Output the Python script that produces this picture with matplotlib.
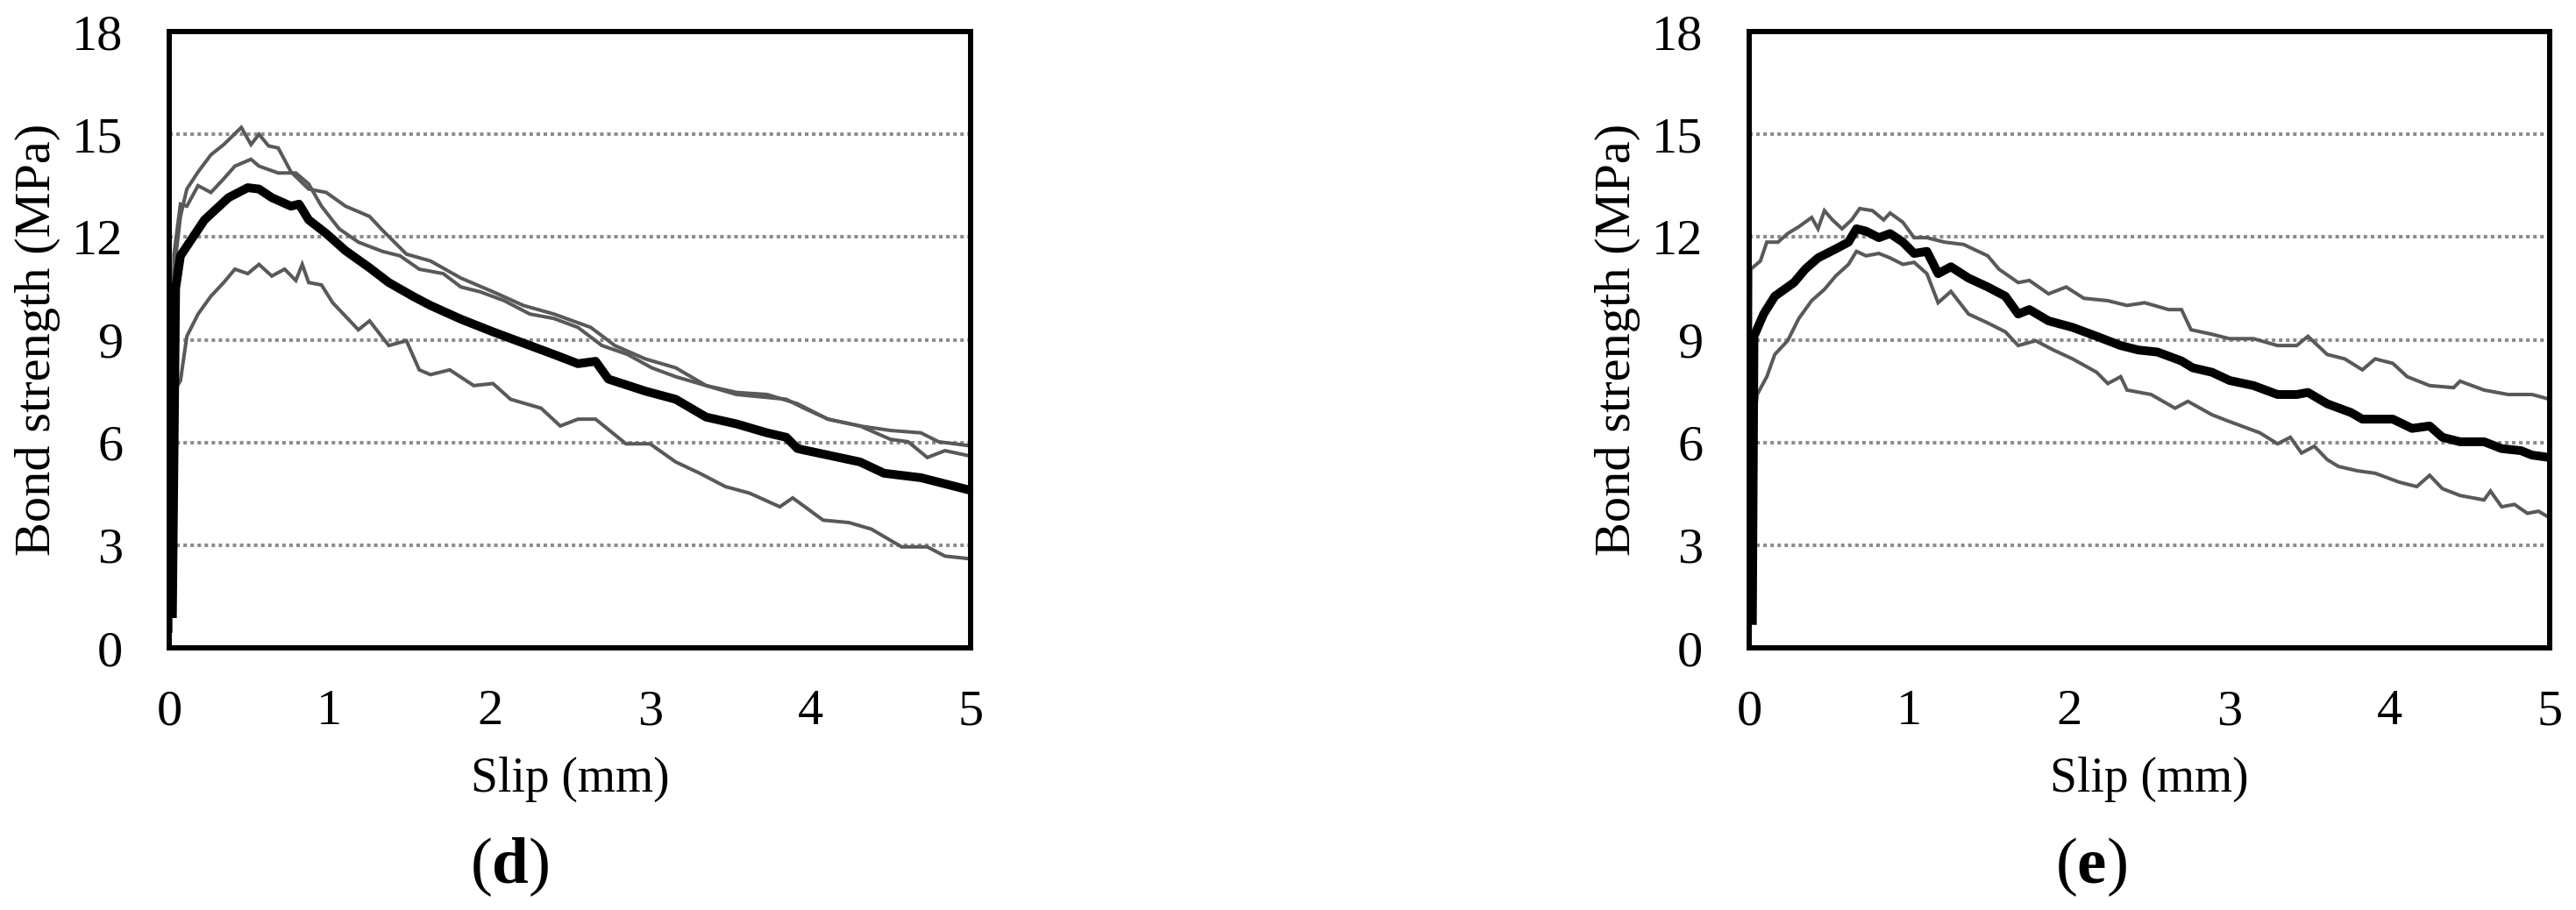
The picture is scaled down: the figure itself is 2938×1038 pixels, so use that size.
import matplotlib.pyplot as plt

# panel (d) - slip (mm) / bond strength (MPa)
d_mean_x = [0.02, 0.04, 0.07, 0.22, 0.37, 0.49, 0.56, 0.64, 0.76, 0.81, 0.87, 0.98, 1.10, 1.25, 1.37,
            1.52, 1.63, 1.82, 2.02, 2.21, 2.40, 2.55, 2.66, 2.74, 2.97, 3.16, 3.35, 3.54, 3.73, 3.85,
            3.92, 4.11, 4.31, 4.46, 4.69, 5.00]
d_mean_y = [1.0, 10.5, 11.45, 12.5, 13.15, 13.44, 13.4, 13.15, 12.9, 12.96, 12.5, 12.1, 11.6, 11.1, 10.67,
            10.27, 10.0, 9.6, 9.23, 8.9, 8.57, 8.3, 8.37, 7.85, 7.5, 7.26, 6.74, 6.54, 6.28, 6.15,
            5.82, 5.63, 5.43, 5.1, 4.97, 4.6]

d_s1_x = [0.01, 0.03, 0.07, 0.11, 0.18, 0.26, 0.34, 0.45, 0.51, 0.56, 0.62, 0.68, 0.76, 0.87, 0.98, 1.10,
          1.25, 1.33, 1.48, 1.63, 1.82, 2.02, 2.21, 2.40, 2.63, 2.78, 2.97, 3.16, 3.35, 3.54, 3.85,
          3.96, 4.11, 4.31, 4.50, 4.69, 4.80, 5.00]
d_s1_y = [0.5, 11.0, 12.6, 13.4, 13.9, 14.4, 14.7, 15.2, 14.7, 15.0, 14.66, 14.6, 13.9, 13.4, 13.3, 12.9,
          12.6, 12.2, 11.5, 11.3, 10.8, 10.4, 10.0, 9.75, 9.36, 8.83, 8.44, 8.18, 7.66, 7.4, 7.26,
          7.0, 6.68, 6.48, 6.35, 6.28, 6.02, 5.9]

d_s2_x = [0.01, 0.03, 0.07, 0.11, 0.18, 0.26, 0.34, 0.41, 0.51, 0.56, 0.68, 0.79, 0.87, 0.95, 1.06, 1.18,
          1.33, 1.44, 1.56, 1.71, 1.82, 1.94, 2.09, 2.25, 2.40, 2.55, 2.70, 2.86, 3.01, 3.16, 3.35,
          3.54, 3.73, 3.92, 4.11, 4.31, 4.50, 4.61, 4.73, 4.84, 5.00]
d_s2_y = [0.5, 11.5, 12.96, 12.9, 13.5, 13.3, 13.7, 14.07, 14.27, 14.07, 13.87, 13.87, 13.55, 12.9, 12.24, 11.85,
          11.58, 11.45, 11.06, 10.93, 10.54, 10.4, 10.14, 9.75, 9.62, 9.36, 8.83, 8.57, 8.18, 7.92, 7.66,
          7.46, 7.4, 7.13, 6.68, 6.48, 6.09, 6.02, 5.56, 5.76, 5.6]

d_s3_x = [0.01, 0.03, 0.07, 0.11, 0.18, 0.26, 0.34, 0.41, 0.49, 0.56, 0.64, 0.72, 0.79, 0.83, 0.87, 0.95,
          1.02, 1.18, 1.25, 1.37, 1.48, 1.56, 1.63, 1.75, 1.90, 2.02, 2.13, 2.32, 2.44, 2.55, 2.66,
          2.85, 3.00, 3.16, 3.31, 3.47, 3.62, 3.81, 3.89, 4.08, 4.24, 4.38, 4.57, 4.73, 4.84, 5.00]
d_s3_y = [0.5, 7.5, 7.8, 9.1, 9.75, 10.27, 10.67, 11.06, 10.93, 11.2, 10.86, 11.06, 10.73, 11.2, 10.67, 10.6,
          10.08, 9.29, 9.55, 8.83, 8.97, 8.12, 7.98, 8.12, 7.66, 7.72, 7.26, 7.0, 6.48, 6.68, 6.68,
          5.96, 5.96, 5.43, 5.1, 4.71, 4.52, 4.12, 4.38, 3.73, 3.66, 3.47, 2.95, 2.95, 2.68, 2.6]

# panel (e)
e_mean_x = [0.02, 0.03, 0.09, 0.16, 0.28, 0.35, 0.43, 0.54, 0.62, 0.67, 0.73, 0.81, 0.88, 0.96, 1.03, 1.11,
            1.18, 1.26, 1.37, 1.49, 1.60, 1.68, 1.75, 1.87, 2.02, 2.17, 2.32, 2.43, 2.55, 2.70, 2.77,
            2.89, 3.00, 3.15, 3.30, 3.42, 3.49, 3.61, 3.76, 3.83, 4.02, 4.14, 4.25, 4.33, 4.44, 4.59,
            4.70, 4.82, 4.89, 5.00]
e_mean_y = [0.8, 9.1, 9.75, 10.27, 10.67, 11.06, 11.39, 11.65, 11.85, 12.24, 12.17, 11.98, 12.1, 11.85, 11.52, 11.58,
            10.93, 11.13, 10.8, 10.54, 10.27, 9.75, 9.88, 9.55, 9.36, 9.1, 8.83, 8.7, 8.64, 8.38, 8.18,
            8.05, 7.81, 7.66, 7.4, 7.4, 7.46, 7.13, 6.87, 6.68, 6.68, 6.41, 6.48, 6.15, 6.02, 6.02,
            5.82, 5.76, 5.63, 5.56]

e_s1_x = [0.0, 0.01, 0.07, 0.11, 0.18, 0.24, 0.31, 0.39, 0.43, 0.47, 0.52, 0.58, 0.64, 0.69, 0.77, 0.84,
          0.88, 0.96, 1.03, 1.11, 1.22, 1.34, 1.49, 1.56, 1.68, 1.75, 1.87, 1.98, 2.09, 2.24, 2.36,
          2.47, 2.62, 2.70, 2.76, 2.89, 3.00, 3.15, 3.30, 3.42, 3.49, 3.61, 3.72, 3.83, 3.91, 4.02,
          4.11, 4.25, 4.40, 4.44, 4.59, 4.74, 4.89, 5.00]
e_s1_y = [0.3, 11.06, 11.3, 11.85, 11.85, 12.1, 12.3, 12.57, 12.24, 12.77, 12.5, 12.24, 12.5, 12.83, 12.77, 12.5,
          12.7, 12.43, 11.98, 11.98, 11.85, 11.78, 11.45, 11.06, 10.67, 10.73, 10.34, 10.54, 10.21, 10.14, 10.0,
          10.08, 9.88, 9.88, 9.29, 9.16, 9.03, 9.03, 8.83, 8.83, 9.1, 8.57, 8.44, 8.12, 8.44, 8.31,
          7.92, 7.66, 7.6, 7.79, 7.53, 7.4, 7.4, 7.26]

e_s2_x = [0.0, 0.01, 0.05, 0.11, 0.16, 0.24, 0.31, 0.39, 0.47, 0.54, 0.62, 0.67, 0.73, 0.81, 0.88, 0.96,
          1.03, 1.11, 1.18, 1.26, 1.37, 1.49, 1.60, 1.68, 1.79, 1.90, 2.02, 2.17, 2.24, 2.32, 2.36,
          2.51, 2.66, 2.74, 2.89, 3.00, 3.19, 3.30, 3.38, 3.45, 3.53, 3.61, 3.68, 3.80, 3.91, 4.06,
          4.17, 4.25, 4.33, 4.44, 4.59, 4.63, 4.70, 4.78, 4.86, 4.93, 5.00]
e_s2_y = [0.3, 5.82, 7.4, 7.92, 8.57, 8.97, 9.62, 10.14, 10.47, 10.86, 11.2, 11.58, 11.45, 11.52, 11.39, 11.2,
          11.26, 10.93, 10.08, 10.41, 9.75, 9.49, 9.23, 8.83, 8.97, 8.7, 8.44, 8.05, 7.72, 7.92, 7.53,
          7.4, 7.0, 7.2, 6.81, 6.61, 6.28, 5.96, 6.15, 5.69, 5.89, 5.5, 5.3, 5.17, 5.1, 4.84,
          4.71, 5.04, 4.65, 4.45, 4.32, 4.58, 4.12, 4.19, 3.93, 3.99, 3.8]

x_ticks = [0, 1, 2, 3, 4, 5]
y_ticks = [0, 3, 6, 9, 12, 15, 18]
panel_labels = ['d', 'e']

plt.rcParams['font.family'] = ['Liberation Serif', 'DejaVu Serif']
plt.rcParams['mathtext.fontset'] = 'custom'
plt.rcParams['mathtext.rm'] = 'Liberation Serif'
plt.rcParams['mathtext.bf'] = 'Liberation Serif:bold'

W, H = 2938, 1038
fig = plt.figure(figsize=(W / 100, H / 100), dpi=100)

# axes boxes in pixels: left, right, top, bottom
boxes = [(193, 1107, 36, 739), (1995, 2908, 36, 739)]
# centre x of the (d)/(e) captions
caption_x = [581, 2385]

panels = [
    (d_mean_x, d_mean_y, [(d_s1_x, d_s1_y), (d_s2_x, d_s2_y), (d_s3_x, d_s3_y)]),
    (e_mean_x, e_mean_y, [(e_s1_x, e_s1_y), (e_s2_x, e_s2_y)]),
]

for i, (mx, my, singles) in enumerate(panels):
    l, r, t, b = boxes[i]
    ax = fig.add_axes([l / W, 1 - b / H, (r - l) / W, (b - t) / H])

    for sx, sy in singles:
        ax.plot(sx, sy, color='#595959', lw=2.9, solid_joinstyle='miter', zorder=2)
    ax.plot(mx, my, color='black', lw=7.2, solid_joinstyle='round', zorder=3)

    ax.set_xlim(0, 5)
    ax.set_ylim(0, 18)
    ax.set_xticks(x_ticks)
    ax.set_yticks(y_ticks)
    ax.tick_params(length=0, labelsize=42)
    ax.tick_params(axis='x', pad=34)
    ax.tick_params(axis='y', pad=38)

    ax.yaxis.grid(True, color='#8c8c8c', lw=2.9, linestyle=(0, (1, 1)), dash_capstyle='butt')
    ax.set_axisbelow(True)
    for sp in ax.spines.values():
        sp.set_linewidth(4.3)
        sp.set_color('black')
        sp.set_zorder(4)

    cx = (l + r) / 2
    fig.text(cx / W, 1 - 903 / H, 'Slip (mm)', fontsize=40, ha='center', va='baseline')
    fig.text((l - 150) / W, 1 - ((t + b) / 2) / H, 'Bond strength (MPa)', fontsize=42,
             rotation=90, ha='center', va='center')
    fig.text(caption_x[i] / W, 1 - 1007 / H, r'($\mathbf{' + panel_labels[i] + '}$)',
             fontsize=54, ha='center', va='baseline')

fig.savefig('out.png', dpi=100)
